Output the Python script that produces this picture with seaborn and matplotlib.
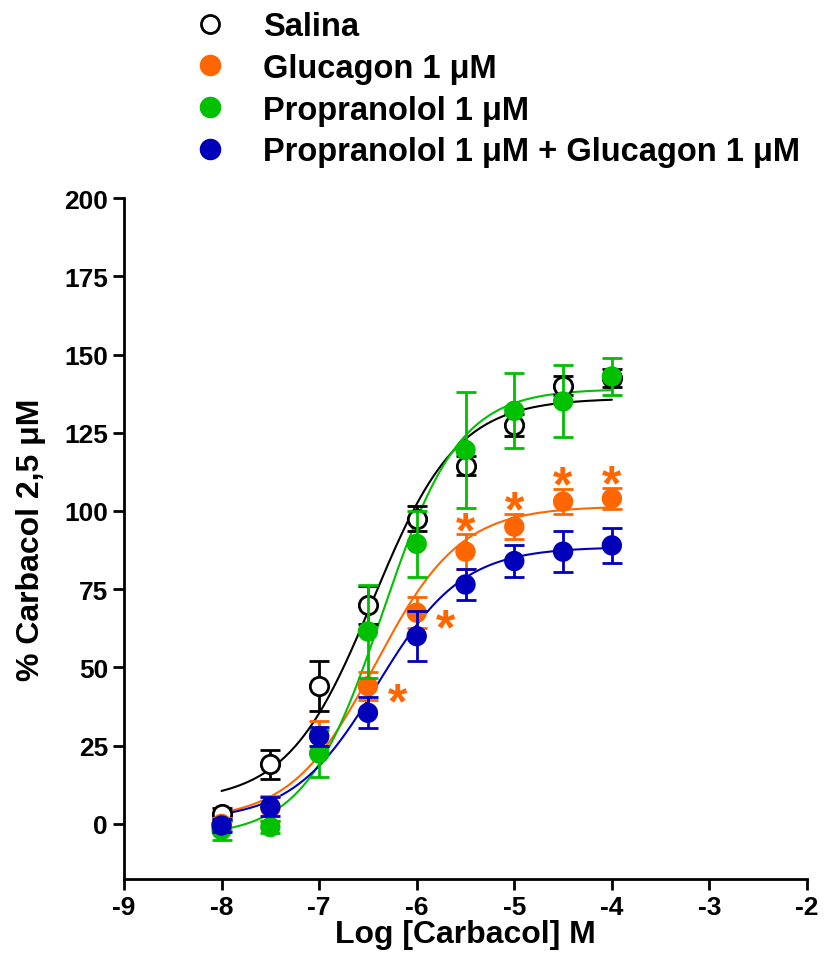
import numpy as np
import pandas as pd
import matplotlib
matplotlib.use("Agg")
import matplotlib.pyplot as plt
import seaborn as sns
from matplotlib.lines import Line2D

sns.set_style("ticks")
plt.rcParams['font.family'] = ['Liberation Sans', 'DejaVu Sans']
plt.rcParams['font.weight'] = 'bold'
for k in ['text.color', 'axes.labelcolor', 'xtick.color', 'ytick.color', 'axes.edgecolor']:
    plt.rcParams[k] = 'black'

# ---- data ----
log_conc = [-8, -7.5, -7, -6.5, -6, -5.5, -5, -4.5, -4]
series_names = ["Salina", "Glucagon 1 μM", "Propranolol 1 μM",
                "Propranolol 1 μM + Glucagon 1 μM"]
salina_mean = [3.2, 19, 44, 70, 97.5, 114.5, 127.5, 140, 142.5]
salina_err = [2, 4.5, 8, 6, 4, 3, 3.5, 3, 3]
glucagon_mean = [0, 5, 28, 44, 67.5, 87, 95, 103, 104]
glucagon_err = [2, 4, 5, 4.5, 5, 5.5, 4, 4, 3.5]
propranolol_mean = [-2, -1, 22.5, 61.5, 89.5, 119.5, 132, 135, 143]
propranolol_err = [3, 2, 7.5, 15, 10.5, 18.5, 12, 11.5, 6]
combo_mean = [-0.5, 5.5, 28, 35.5, 60, 76.5, 84, 87, 89]
combo_err = [2, 3, 3, 5, 8, 5, 5, 6.5, 5.5]

# sigmoidal dose-response fit parameters (as drawn in the original)
fit_bottom = [7, 1, -4, 1]
fit_top = [136, 101.5, 139, 88.5]
fit_logec50 = [-6.45, -6.42, -6.35, -6.4]
fit_hill = [1.0, 1.0, 1.1, 1.0]
fit_range = [-8, -4]

# significance marks (glucagon vs salina)
star_conc = [-6.5, -6, -5.5, -5, -4.5, -4]
star_side = ["right", "right", "top", "top", "top", "top"]

x_ticks = [-9, -8, -7, -6, -5, -4, -3, -2]
y_ticks = [0, 25, 50, 75, 100, 125, 150, 175, 200]

colors = ["black", "#FF6600", "#00C000", "#0000BB"]
means = [salina_mean, glucagon_mean, propranolol_mean, combo_mean]
errs = [salina_err, glucagon_err, propranolol_err, combo_err]


def model(x, b, t, ec, h):
    return b + (t - b) / (1 + 10 ** ((ec - x) * h))


fig = plt.figure(figsize=(8.24, 9.70), dpi=100)
ax = fig.add_axes([124 / 824, 0.0928, 683 / 824, 0.702])

rows = []
curve_rows = []
xs = np.linspace(fit_range[0], fit_range[1], 300)
for i, (name, m, e) in enumerate(zip(series_names, means, errs)):
    for xv, mv, ev in zip(log_conc, m, e):
        rows.append(dict(series=name, x=xv, y=mv, err=ev))
    yv = model(xs, fit_bottom[i], fit_top[i], fit_logec50[i], fit_hill[i])
    for a, b in zip(xs, yv):
        curve_rows.append(dict(series=name, x=a, y=b))
df = pd.DataFrame(rows)
cdf = pd.DataFrame(curve_rows)
pal = dict(zip(series_names, colors))

sns.lineplot(data=cdf, x="x", y="y", hue="series", palette=pal, ax=ax,
             legend=False, linewidth=1.5, zorder=2)

draw_order = [0, 1, 3, 2]
for i in draw_order:
    name = series_names[i]
    sub = df[df.series == name]
    ax.errorbar(sub.x, sub.y, yerr=sub.err, fmt='none', ecolor=colors[i],
                elinewidth=2, capsize=7, capthick=2, zorder=3 + i)
    if i == 0:
        ax.scatter(sub.x, sub.y, s=175, facecolor='white', edgecolor='black',
                   linewidth=2, zorder=3 + i + 0.5)
    else:
        sns.scatterplot(data=sub, x="x", y="y", color=colors[i], s=215,
                        edgecolor='none', ax=ax, zorder=3 + i + 0.5,
                        legend=False)

star_fs = 36
gm = dict(zip(log_conc, glucagon_mean))
ge = dict(zip(log_conc, glucagon_err))
for sx, side in zip(star_conc, star_side):
    if side == "top":
        xy = (sx, gm[sx] + ge[sx])
        off = (0, 9 - 0.48 * star_fs)
    else:
        xy = (sx + 0.3, gm[sx] - 2.25)
        off = (0, -0.48 * star_fs)
    ax.annotate("*", xy=xy, xytext=off, textcoords='offset points',
                color="#FF6600", fontsize=star_fs, fontweight='bold',
                ha='center', va='baseline', zorder=10)

ax.set_xlim(-9, -2)
ax.set_ylim(-17.6, 200)
ax.set_xticks(x_ticks)
ax.set_yticks(y_ticks)
ax.set_xticklabels([str(t) for t in x_ticks])
ax.set_yticklabels([str(t) for t in y_ticks])
ax.tick_params(axis='both', labelsize=19, width=2, length=8, direction='out',
               colors='black')
for lab in ax.get_xticklabels() + ax.get_yticklabels():
    lab.set_fontweight('bold')
sns.despine(ax=ax)
for s in ['left', 'bottom']:
    ax.spines[s].set_linewidth(2)
    ax.spines[s].set_color('black')
ax.set_xlabel("Log [Carbacol] M", fontsize=23, fontweight='bold', labelpad=0)
ax.set_ylabel("% Carbacol 2,5 μM", fontsize=23, fontweight='bold', labelpad=13)

handles = [Line2D([], [], marker='o', linestyle='none', markersize=13,
                  markerfacecolor='white', markeredgecolor='black', markeredgewidth=2)]
for c in colors[1:]:
    handles.append(Line2D([], [], marker='o', linestyle='none', markersize=14.5,
                          markerfacecolor=c, markeredgecolor=c))
fig.legend(handles, series_names, loc='upper left', bbox_to_anchor=(194 / 824, 1 - 12 / 970),
           frameon=False, prop=dict(size=23.5, weight='bold'), handlelength=1.0,
           handletextpad=1.12, labelspacing=0.33, borderaxespad=0, borderpad=0)

fig.savefig("out.png", dpi=100)
